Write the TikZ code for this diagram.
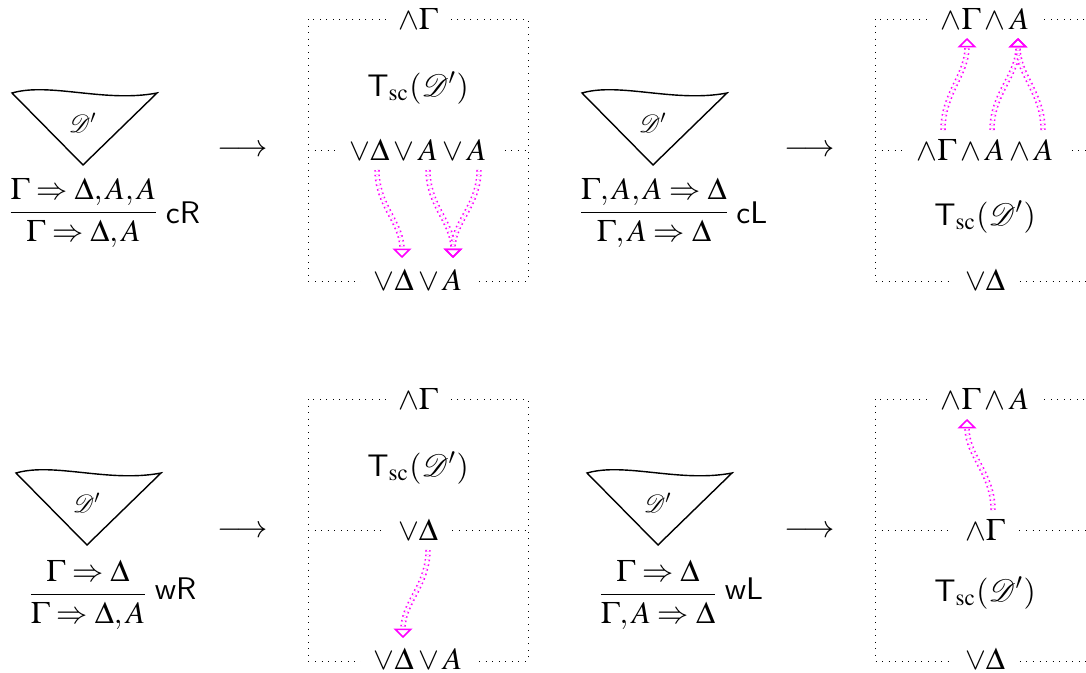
\documentclass[tikz,border=0pt]{standalone}
\usepackage{amsmath}
\usepackage{mathptmx}
\usepackage[scaled=0.92]{helvet}
\usetikzlibrary{arrows.meta, positioning, calc}
\definecolor{trace}{HTML}{FF00FF}

\begin{document}
\begin{tikzpicture}[x=0.32pt, y=-0.32pt,
    frame/.style={line width=0.3pt, dash pattern=on 0.3pt off 1.8pt},
    lbl/.style={fill=white, inner xsep=4pt, inner ysep=1.5pt},
    flow/.style={draw=trace, densely dotted, double, double distance=0.75pt, line width=0.5pt,
      -{Triangle[open, length=3pt, width=6pt, line width=0.5pt]}},
    tree/.style={line width=0.45pt, line join=miter},
    seq/.style={inner sep=0pt},
    rulename/.style={inner sep=0pt}]
  \useasboundingbox (0,0) rectangle (1086,673);
  \clip (0,0) rectangle (1086,673);

  % proofs D' with their last rule
  \begin{scope}[shift={(0,0)}]
    \draw[tree] (12,93) .. controls (50,82) and (105,103) .. (157,93) -- (83,165) -- cycle;
    \node[font=\footnotesize] (dcr) at (83,123) {$\mathcal{D}'$};
    \node[seq] (scr) at (83.5,213) {$\dfrac{\Gamma\Rightarrow\Delta,A,A}{\Gamma\Rightarrow\Delta,A}$};
    \node[rulename, right=1.5pt of scr] (rcr) {$\mathsf{cR}$};
  \end{scope}
  \begin{scope}[shift={(570,0)}]
    \draw[tree] (12,93) .. controls (50,82) and (105,103) .. (157,93) -- (83,165) -- cycle;
    \node[font=\footnotesize] (dcl) at (83,123) {$\mathcal{D}'$};
    \node[seq] (scl) at (84,213) {$\dfrac{\Gamma,A,A\Rightarrow\Delta}{\Gamma,A\Rightarrow\Delta}$};
    \node[rulename, right=1.5pt of scl] (rcl) {$\mathsf{cL}$};
  \end{scope}
  \begin{scope}[shift={(4,380)}]
    \draw[tree] (12,93) .. controls (50,82) and (105,103) .. (157,93) -- (83,165) -- cycle;
    \node[font=\footnotesize] (dwr) at (83,123) {$\mathcal{D}'$};
    \node[seq] (swr) at (84,215) {$\dfrac{\Gamma\Rightarrow\Delta}{\Gamma\Rightarrow\Delta,A}$};
    \node[rulename, right=1.5pt of swr, yshift=2pt] (rwr) {$\mathsf{wR}$};
  \end{scope}
  \begin{scope}[shift={(575,380)}]
    \draw[tree] (12,93) .. controls (50,82) and (105,103) .. (157,93) -- (83,165) -- cycle;
    \node[font=\footnotesize] (dwl) at (83,123) {$\mathcal{D}'$};
    \node[seq] (swl) at (83,215) {$\dfrac{\Gamma\Rightarrow\Delta}{\Gamma,A\Rightarrow\Delta}$};
    \node[rulename, right=1.5pt of swl, yshift=2pt] (rwl) {$\mathsf{wL}$};
  \end{scope}

  % translation arrows
  \node (tcr) at (243,151) {$\longrightarrow$};
  \node (tcl) at (810,151) {$\longrightarrow$};
  \node (twr) at (243,532) {$\longrightarrow$};
  \node (twl) at (810,532) {$\longrightarrow$};

  % translated trees
  \draw[frame] (308,19) rectangle (528,281) (308,150) -- (528,150);
  \draw[frame] (875,19) rectangle (1095,281) (875,150) -- (1095,150);
  \draw[frame] (308,399) rectangle (528,661) (308,530) -- (528,530);
  \draw[frame] (875,399) rectangle (1095,661) (875,530) -- (1095,530);

  \node[lbl] (top1) at (418,19) {$\wedge\Gamma$};
  \node (tsc1) at (418,88) {$\mathsf{T}_{\mathrm{sc}}(\mathcal{D}')$};
  \node[lbl] (mid1) at (418,150) {$\vee\Delta\vee A\vee A$};
  \node[lbl] (bot1) at (418,280) {$\vee\Delta\vee A$};

  \node[lbl] (top2) at (985,19) {$\wedge\Gamma\wedge A$};
  \node[lbl] (mid2) at (985,150) {$\wedge\Gamma\wedge A\wedge A$};
  \node (tsc2) at (985,217) {$\mathsf{T}_{\mathrm{sc}}(\mathcal{D}')$};
  \node[lbl] (bot2) at (985,280) {$\vee\Delta$};

  \node[lbl] (top3) at (418,399) {$\wedge\Gamma$};
  \node (tsc3) at (418,468) {$\mathsf{T}_{\mathrm{sc}}(\mathcal{D}')$};
  \node[lbl] (mid3) at (418,530) {$\vee\Delta$};
  \node[lbl] (bot3) at (418,659) {$\vee\Delta\vee A$};

  \node[lbl] (top4) at (985,399) {$\wedge\Gamma\wedge A$};
  \node[lbl] (mid4) at (985,530) {$\wedge\Gamma$};
  \node (tsc4) at (985,593) {$\mathsf{T}_{\mathrm{sc}}(\mathcal{D}')$};
  \node[lbl] (bot4) at (985,659) {$\vee\Delta$};

  % occurrences followed through the tree
  \coordinate (d1) at (377,170);  \coordinate (d1') at (402,258);
  \coordinate (a1) at (428,170);  \coordinate (a1') at (453,258);
  \coordinate (a2) at (479,170);
  \draw[flow] (d1) to[out=-90, in=90] (d1');
  \draw[flow] (a1) to[out=-90, in=90] (a1');
  \draw[flow] (a2) to[out=-90, in=90] (a1');

  \coordinate (g2) at (943,130);  \coordinate (g2') at (967,38);
  \coordinate (b1) at (992,130);  \coordinate (b1') at (1018,38);
  \coordinate (b2) at (1043,130);
  \draw[flow] (g2) to[out=90, in=-90] (g2');
  \draw[flow] (b1) to[out=90, in=-90] (b1');
  \draw[flow] (b2) to[out=90, in=-90] (b1');

  \coordinate (d3) at (428,550);  \coordinate (d3') at (403,638);
  \draw[flow] (d3) to[out=-90, in=90] (d3');

  \coordinate (g4) at (993,510);  \coordinate (g4') at (967,419);
  \draw[flow] (g4) to[out=90, in=-90] (g4');
\end{tikzpicture}
\end{document}
